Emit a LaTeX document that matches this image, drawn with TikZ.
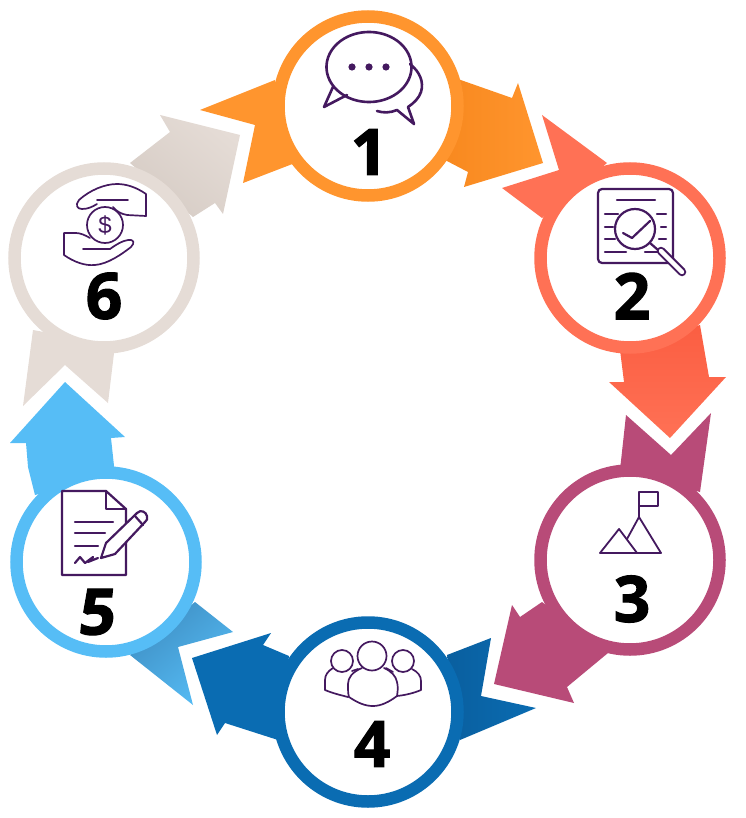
\documentclass[tikz,border=0pt]{standalone}
\usepackage{fontspec}
\newfontfamily\digitfont[BoldFeatures={FakeBold=1.8}]{Open Sans}
\newfontfamily\dollarfont{Liberation Sans}
\definecolor{cOrange}{HTML}{FF952E}
\definecolor{cOrangeD}{HTML}{F8891F}
\definecolor{cRed}{HTML}{FF7155}
\definecolor{cRedD}{HTML}{FB5E42}
\definecolor{cPlum}{HTML}{B84B78}
\definecolor{cBlue}{HTML}{0A6CB2}
\definecolor{cBlueD}{HTML}{0A5F9F}
\definecolor{cSky}{HTML}{56BDF6}
\definecolor{cSkyD}{HTML}{3F8FC4}
\definecolor{cSand}{HTML}{E5DCD6}
\definecolor{cSandD}{HTML}{D6CCC5}
\definecolor{cIcon}{HTML}{44195F}
\tikzset{
  ring/.style={circle,draw=#1,fill=white,line width=12.5pt,minimum size=179pt,inner sep=0pt},
  digit/.style={inner sep=0pt,font=\digitfont\bfseries\fontsize{64}{64}\selectfont,text=black},
  icon/.style={draw=cIcon,line width=#1,line join=round,line cap=round},
  icon/.default=2pt
}
\begin{document}
\begin{tikzpicture}[x=1pt,y=-1pt]
\useasboundingbox (0,0) rectangle (745,818);

% --- arrows ---
% 1 tail and head
\fill[cOrange] (275,80) -- (200,110) -- (255,125) -- (243,183) -- (295,163) -- cycle;
\shade[left color=cOrangeD,right color=cOrange] (455,78) -- (512,98) -- (518,83) -- (543,163) -- (464,187) -- (468,172) -- (445,160) -- cycle;
% 2 tail and head
\fill[cRed] (542,115) -- (559,170) -- (502,188) -- (542,218) -- (607,163) -- cycle;
\shade[top color=cRedD,bottom color=cRed] (620,350) -- (624,382) -- (609,382) -- (670,438) -- (726,377) -- (709,377) -- (700,325) -- cycle;
% 3 tail and head
\fill[cPlum] (626,415) -- (671,455) -- (711,413) -- (700,492) -- (620,470) -- cycle;
\fill[cPlum] (542,602) -- (520,617) -- (512,605) -- (494,684) -- (574,703) -- (567,687) -- (608,653) -- cycle;
% 4 tail and head
\shade[right color=cBlue,left color=cBlueD] (447,655) -- (491,638) -- (481,696) -- (536,708) -- (460,740) -- cycle;
\fill[cBlue] (289,656) -- (263,645) -- (271,633) -- (192,658) -- (217,735) -- (225,723) -- (278,740) -- cycle;
% 5 tail and head
\shade[top color=cSkyD,bottom color=cSky,shading angle=40] (195,602) -- (233,632) -- (178,647) -- (193,705) -- (130,655) -- cycle;
\fill[cSky] (35,495) -- (28,467) -- (26,443) -- (10,443) -- (65,382) -- (125,437) -- (111,438) -- (115,475) -- cycle;
% 6 tail and head
\fill[cSand] (33,330) -- (23,406) -- (65,365) -- (108,403) -- (115,345) -- cycle;
\shade[bottom color=cSandD,top color=cSand,shading angle=-40] (130,163) -- (170,132) -- (160,115) -- (240,135) -- (223,214) -- (215,203) -- (193,217) -- cycle;

% --- rings ---
\node[ring=cOrange] (n1) at (368,106) {};
\node[ring=cRed]    (n2) at (630,258) {};
\node[ring=cPlum]   (n3) at (630,560) {};
\node[ring=cBlue]   (n4) at (368,712) {};
\node[ring=cSky]    (n5) at (106,562) {};
\node[ring=cSand]   (n6) at (104,258) {};

% --- digits ---
\node[digit] (d1) at (369,152) {1};
\node[digit] (d2) at (632,296) {2};
\node[digit] (d3) at (632,599) {3};
\node[digit] (d4) at (372,744) {4};
\node[digit,xslant=0.1] (d5) at (98,612) {5};
\node[digit] (d6) at (104,296) {6};

% --- icon 1: speech bubbles ---
\draw[icon=2.6pt] plot[domain=147:-213,samples=120,smooth] ({369+42.5*cos(\x)},{67+35*sin(\x)}) -- (324,107) -- (347,95);
\draw[icon=2.6pt] (410,64) .. controls (420,72) and (424,82) .. (421,92) .. controls (419,98) and (414,103) .. (408,107) -- (414,124) -- (397,110) .. controls (390,113) and (383,113) .. (377,111);
\fill[cIcon] (352,67) circle[radius=3.6pt] (369,67) circle[radius=3.6pt] (386,67) circle[radius=3.6pt];

% --- icon 2: document and magnifier ---
\draw[icon=2.2pt,rounded corners=4pt] (598,189) rectangle (673,263);
\draw[icon=2.2pt] (617,200) -- (655,200)
  (605,214) -- (618,214) (657,214) -- (666,214)
  (605,227) -- (613,227) (661,227) -- (666,227)
  (605,239) -- (615,239) (659,239) -- (666,239)
  (605,252) -- (626,252) (645,252) -- (660,252);
\draw[icon=2.2pt,fill=white] (635,229) circle[radius=20pt];
\draw[icon=2.2pt] (623,233) -- (632,238) -- (650,221);
\draw[icon=2.2pt] (650,243) -- (658,250);
\draw[draw=cIcon,line width=8.5pt,line cap=round] (661,251) -- (682,272);
\draw[draw=white,line width=4.4pt,line cap=round] (661,251) -- (682,272);

% --- icon 3: mountains and flag ---
\draw[icon=1.8pt] (600,553) -- (661,553) -- (639,517) -- (627,539);
\draw[icon=1.8pt] (600,553) -- (619,529) -- (637,553);
\draw[icon=1.8pt] (639,517) -- (639,492) -- (658,492) -- (658,506) -- (639,506);

% --- icon 4: people ---
\draw[icon=1.7pt] (372,656) circle[radius=14.5pt] (342,661) circle[radius=11pt] (403,661) circle[radius=11pt];
\draw[icon=1.7pt] (362,668) .. controls (352,672) and (348,678) .. (348,684) .. controls (348,690) and (348,694) .. (349,697) .. controls (358,703) and (365,706) .. (373,706) .. controls (381,706) and (389,702) .. (397,696) .. controls (398,690) and (398,686) .. (397,682) .. controls (396,676) and (391,671) .. (384,668);
\draw[icon=1.7pt] (333,668) .. controls (328,671) and (325,675) .. (325,680) -- (325,690) .. controls (332,693) and (340,695) .. (348,697);
\draw[icon=1.7pt] (412,669) .. controls (418,672) and (421,676) .. (421,681) -- (421,690) .. controls (414,693) and (406,695) .. (397,696);
\draw[icon=1.7pt] (352,671) -- (358,669) (386,668) -- (393,672);

% --- icon 5: document and pencil ---
\draw[icon=2.2pt] (62,491) -- (106,491) -- (126,509) -- (126,575) -- (62,575) -- cycle;
\draw[icon=2.2pt] (106,491) -- (106,509) -- (126,509);
\draw[icon=2.2pt] (75,522) -- (113,522) (75,533) -- (105,533) (75,546) -- (98,546);
\draw[icon=2.2pt] (75,563) -- (80,557) -- (85,563) -- (93,557) -- (88,562) -- (98,558);
\draw[icon=2.2pt,fill=white] (101,558) -- (106,543) -- (137,513) .. controls (141,509) and (146,512) .. (147,516) .. controls (148,519) and (147,520) .. (145,522) -- (115,554) -- cycle;
\draw[icon=2.2pt] (135,516) -- (143,525);

% --- icon 6: hands and coin ---
\draw[icon=1.7pt] (105,225) circle[radius=18pt];
\node[inner sep=0pt,font=\dollarfont\fontsize{24}{24}\selectfont,text=cIcon] (dollar) at (105,225) {\$};
\draw[icon=1.7pt] (146,216) -- (146,194) .. controls (136,187) and (126,184) .. (117,184) .. controls (105,184) and (90,190) .. (79,200) .. controls (75,205) and (77,209) .. (82,209) .. controls (88,209) and (92,207) .. (97,204);
\draw[icon=1.7pt] (97,200) -- (128,200);
\draw[icon=1.7pt] (146,216) -- (127,215) .. controls (121,214) and (116,211) .. (113,207);
\draw[icon=1.7pt] (90,238) .. controls (85,235) and (80,233) .. (76,233) -- (64,233) -- (64,255) .. controls (74,262) and (85,266) .. (95,265) .. controls (108,264) and (122,254) .. (131,247) .. controls (135,243) and (134,239) .. (128,240) .. controls (122,241) and (117,244) .. (110,249);
\draw[icon=1.7pt] (83,249) -- (110,249);
\end{tikzpicture}
\end{document}
